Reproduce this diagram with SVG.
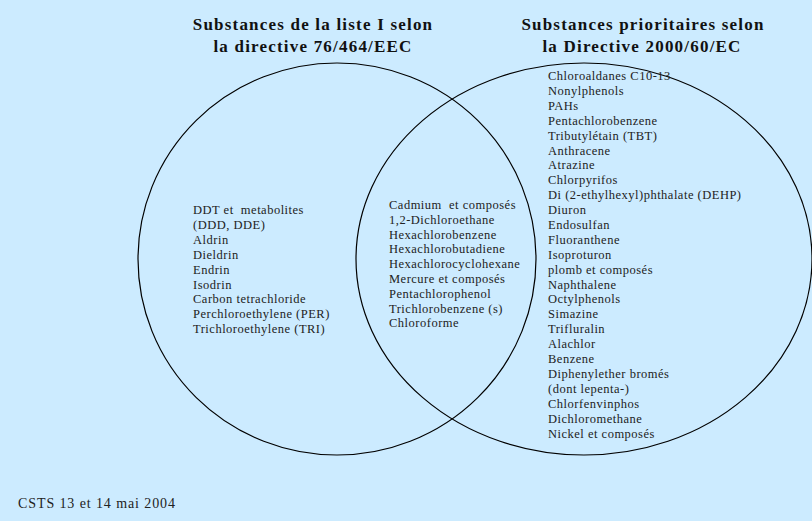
<svg xmlns="http://www.w3.org/2000/svg" width="812" height="521" viewBox="0 0 812 521">
<style>
.bg{fill:#CCEBFF}
.set{fill:none;stroke:#000;stroke-width:1.2}
.title{font-family:"Liberation Serif","Times New Roman",serif;font-weight:bold;font-size:17px;letter-spacing:1.2px;fill:#111;text-anchor:middle}
.list{font-family:"Liberation Serif","Times New Roman",serif;font-size:12.5px;letter-spacing:0.5px;fill:#222;white-space:pre}
.foot{font-family:"Liberation Serif","Times New Roman",serif;font-size:14px;letter-spacing:0.9px;fill:#222}
</style>
<rect class="bg" x="0" y="0" width="812" height="521"/>
<g id="title-left">
<text class="title" x="313" y="30">Substances de la liste I selon</text>
<text class="title" x="313" y="52">la directive 76/464/EEC</text>
</g>
<g id="title-right">
<text class="title" x="643" y="30">Substances prioritaires selon</text>
<text class="title" x="642" y="52">la Directive 2000/60/EC</text>
</g>
<g id="set-left">
<ellipse class="set" cx="337" cy="259" rx="199" ry="196"/>
<text class="list" x="193" y="214"><tspan x="193" dy="0">DDT et  metabolites</tspan><tspan x="193" dy="14.9">(DDD, DDE)</tspan><tspan x="193" dy="14.9">Aldrin</tspan><tspan x="193" dy="14.9">Dieldrin</tspan><tspan x="193" dy="14.9">Endrin</tspan><tspan x="193" dy="14.9">Isodrin</tspan><tspan x="193" dy="14.9">Carbon tetrachloride</tspan><tspan x="193" dy="14.9">Perchloroethylene (PER)</tspan><tspan x="193" dy="14.9">Trichloroethylene (TRI)</tspan></text>
</g>
<g id="set-right">
<ellipse class="set" cx="584" cy="259" rx="228" ry="196"/>
<text class="list" x="548" y="80"><tspan x="548" dy="0">Chloroaldanes C10-13</tspan><tspan x="548" dy="14.9">Nonylphenols</tspan><tspan x="548" dy="14.9">PAHs</tspan><tspan x="548" dy="14.9">Pentachlorobenzene</tspan><tspan x="548" dy="14.9">Tributylétain (TBT)</tspan><tspan x="548" dy="14.9">Anthracene</tspan><tspan x="548" dy="14.9">Atrazine</tspan><tspan x="548" dy="14.9">Chlorpyrifos</tspan><tspan x="548" dy="14.9">Di (2-ethylhexyl)phthalate (DEHP)</tspan><tspan x="548" dy="14.9">Diuron</tspan><tspan x="548" dy="14.9">Endosulfan</tspan><tspan x="548" dy="14.9">Fluoranthene</tspan><tspan x="548" dy="14.9">Isoproturon</tspan><tspan x="548" dy="14.9">plomb et composés</tspan><tspan x="548" dy="14.9">Naphthalene</tspan><tspan x="548" dy="14.9">Octylphenols</tspan><tspan x="548" dy="14.9">Simazine</tspan><tspan x="548" dy="14.9">Trifluralin</tspan><tspan x="548" dy="14.9">Alachlor</tspan><tspan x="548" dy="14.9">Benzene</tspan><tspan x="548" dy="14.9">Diphenylether bromés</tspan><tspan x="548" dy="14.9">(dont lepenta-)</tspan><tspan x="548" dy="14.9">Chlorfenvinphos</tspan><tspan x="548" dy="14.9">Dichloromethane</tspan><tspan x="548" dy="14.9">Nickel et composés</tspan></text>
</g>
<g id="set-intersection">
<text class="list" x="389" y="209"><tspan x="389" dy="0">Cadmium  et composés</tspan><tspan x="389" dy="14.8">1,2-Dichloroethane</tspan><tspan x="389" dy="14.8">Hexachlorobenzene</tspan><tspan x="389" dy="14.8">Hexachlorobutadiene</tspan><tspan x="389" dy="14.8">Hexachlorocyclohexane</tspan><tspan x="389" dy="14.8">Mercure et composés</tspan><tspan x="389" dy="14.8">Pentachlorophenol</tspan><tspan x="389" dy="14.8">Trichlorobenzene (s)</tspan><tspan x="389" dy="14.8">Chloroforme</tspan></text>
</g>
<g id="connectors"/>
<g id="footer">
<text class="foot" x="18" y="508">CSTS 13 et 14 mai 2004</text>
</g>
</svg>
